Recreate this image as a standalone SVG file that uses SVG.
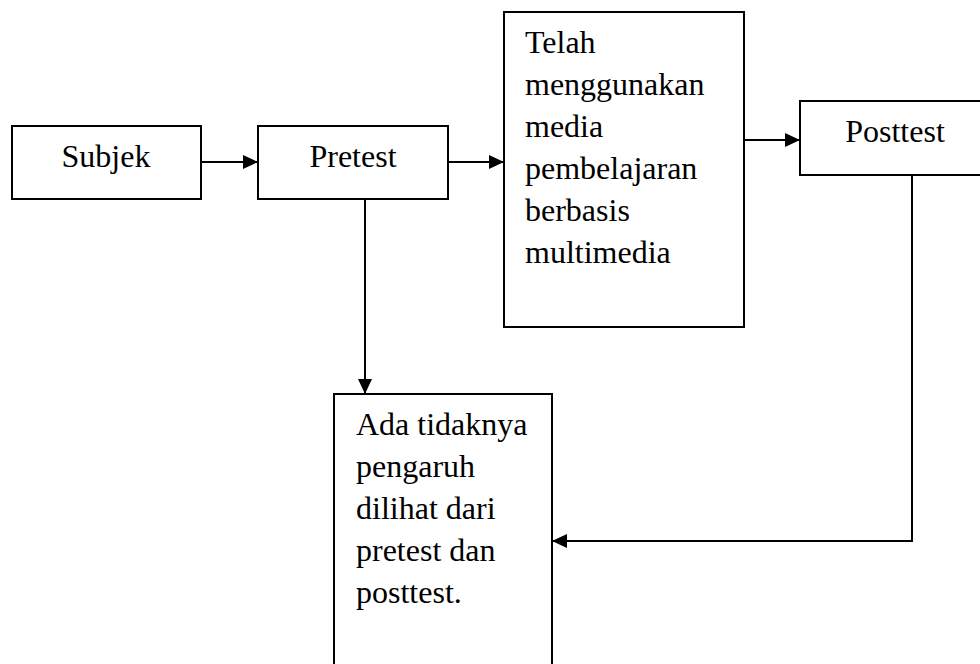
<svg xmlns="http://www.w3.org/2000/svg" width="980" height="664" viewBox="0 0 980 664">
<style>
.box{fill:#fff;stroke:#000;stroke-width:2}
.t{font-family:"Liberation Serif","Times New Roman",serif;font-size:32px;fill:#000}
.c{fill:none;stroke:#000;stroke-width:2}
</style>
<defs>
<marker id="ah" markerUnits="userSpaceOnUse" markerWidth="16" markerHeight="16" viewBox="0 0 16 16" refX="15" refY="8" orient="auto">
<path d="M0,1 L15,8 L0,15 Z" fill="#000"/>
</marker>
</defs>
<rect width="980" height="664" fill="#fff"/>
<g id="subjek">
<rect class="box" x="12" y="126" width="189" height="73"/>
<text class="t" x="106" y="167" text-anchor="middle">Subjek</text>
</g>
<g id="pretest">
<rect class="box" x="258" y="126" width="190" height="73"/>
<text class="t" x="353" y="167" text-anchor="middle">Pretest</text>
</g>
<g id="media">
<rect class="box" x="504" y="12" width="240" height="315"/>
<text class="t" x="525" y="53">Telah</text>
<text class="t" x="525" y="95">menggunakan</text>
<text class="t" x="525" y="137">media</text>
<text class="t" x="525" y="179">pembelajaran</text>
<text class="t" x="525" y="221">berbasis</text>
<text class="t" x="525" y="263">multimedia</text>
</g>
<g id="posttest">
<rect class="box" x="800" y="101" width="200" height="74"/>
<text class="t" x="895" y="142" text-anchor="middle">Posttest</text>
</g>
<g id="hasil">
<rect class="box" x="334" y="394" width="218" height="300"/>
<text class="t" x="356" y="435">Ada tidaknya</text>
<text class="t" x="356" y="477">pengaruh</text>
<text class="t" x="356" y="519">dilihat dari</text>
<text class="t" x="356" y="561">pretest dan</text>
<text class="t" x="356" y="603">posttest.</text>
</g>
<g id="connectors">
<path class="c" d="M201,162 H258" marker-end="url(#ah)"/>
<path class="c" d="M448,162 H504" marker-end="url(#ah)"/>
<path class="c" d="M744,140 H800" marker-end="url(#ah)"/>
<path class="c" d="M365,199 V394" marker-end="url(#ah)"/>
<path class="c" d="M912,175 V541 H552" marker-end="url(#ah)"/>
</g>
</svg>
